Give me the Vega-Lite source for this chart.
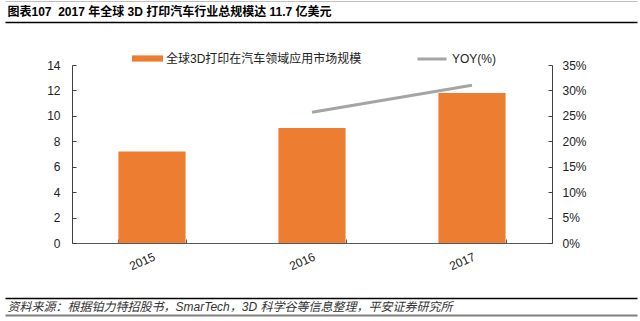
{
  "$schema": "https://vega.github.io/schema/vega-lite/v6.json",
  "autosize": {"type": "none"},
  "width": 632,
  "height": 178,
  "padding": {"left": 5, "top": 65, "right": 3, "bottom": 78},
  "background": "white",
  "datasets": {
    "market": [
      {"year": "2015", "value": 7.2, "yoy": null},
      {"year": "2016", "value": 9.05, "yoy": 25.7},
      {"year": "2017", "value": 11.8, "yoy": 31.0}
    ],
    "frame": [{"p": 0}, {"p": 1}]
  },
  "config": {
    "view": {"stroke": null},
    "font": "Liberation Sans, Noto Sans CJK SC",
    "axis": {"grid": false, "labelFont": "Liberation Sans, Noto Sans CJK SC", "titleFont": "Liberation Sans, Noto Sans CJK SC", "labelColor": "#222", "labelFontSize": 12},
    "legend": {"labelFont": "Liberation Sans, Noto Sans CJK SC", "labelFontSize": 12, "labelColor": "#222", "padding": 0, "labelLimit": 0}
  },
  "layer": [
    {
      "data": {"name": "market"},
      "layer": [
        {
          "mark": {"type": "bar"},
          "encoding": {
            "x": {
              "field": "year", "type": "nominal",
              "scale": {"range": [67, 547], "paddingInner": 0.58, "paddingOuter": 0.29},
              "axis": {"orient": "bottom", "title": null, "labelAngle": -24, "tickBand": "extent", "tickSize": -4, "labelPadding": 12, "domainColor": "#595959", "tickColor": "#595959"}
            },
            "y": {
              "field": "value", "type": "quantitative",
              "scale": {"domain": [0, 14], "nice": false},
              "axis": {"orient": "left", "offset": -67, "title": null, "values": [0, 2, 4, 6, 8, 10, 12, 14], "tickSize": -4, "labelPadding": 16, "domainColor": "#404040", "tickColor": "#404040"}
            },
            "color": {
              "datum": "全球3D打印在汽车领域应用市场规模", "type": "nominal",
              "scale": {"range": ["#ED7D31"]},
              "legend": {"orient": "none", "legendX": 127, "legendY": -22, "title": null, "symbolType": "M-1,-0.2H1V0.2H-1Z", "symbolSize": 961, "symbolStrokeWidth": 0, "labelOffset": 3, "labelLimit": 0}
            }
          }
        },
        {
          "mark": {"type": "line", "strokeWidth": 3},
          "encoding": {
            "x": {"field": "year", "type": "nominal"},
            "y": {
              "field": "yoy", "type": "quantitative",
              "scale": {"domain": [0, 35], "nice": false},
              "axis": {"orient": "right", "offset": -85, "title": null, "values": [0, 5, 10, 15, 20, 25, 30, 35], "labelExpr": "datum.value + '%'", "tickSize": -4, "labelPadding": 14, "domainColor": "#404040", "tickColor": "#404040"}
            },
            "stroke": {
              "datum": "YOY(%)", "type": "nominal",
              "scale": {"range": ["#A5A5A5"]},
              "legend": {"orient": "none", "legendX": 411, "legendY": -22, "title": null, "symbolType": "stroke", "symbolSize": 841, "symbolStrokeWidth": 3, "labelOffset": 4}
            }
          }
        }
      ],
      "resolve": {"scale": {"y": "independent"}}
    },
    {
      "data": {"name": "frame"},
      "mark": {"type": "point", "opacity": 0},
      "encoding": {
        "x": {
          "field": "p", "type": "quantitative", "scale": {"domain": [0, 1], "nice": false},
          "axis": {"orient": "top", "offset": 43, "domainColor": "#000", "domainWidth": 1.5, "ticks": false, "labels": false, "title": "图表107\u00a0\u00a02017 年全球 3D 打印汽车行业总规模达 11.7 亿美元", "titleAnchor": "start", "titleAlign": "left", "titleX": 2, "titleFontSize": 12, "titleFontWeight": "bold", "titleColor": "#000", "titlePadding": 4}
        }
      }
    },
    {
      "data": {"name": "frame"},
      "mark": {"type": "point", "opacity": 0},
      "encoding": {
        "x": {
          "field": "p", "type": "quantitative", "scale": {"domain": [0, 1], "nice": false},
          "axis": {"orient": "top", "offset": 64, "domainColor": "#c0c0c0", "domainWidth": 1, "ticks": false, "labels": false, "title": null}
        }
      }
    },
    {
      "data": {"name": "frame"},
      "mark": {"type": "point", "opacity": 0},
      "encoding": {
        "x": {
          "field": "p", "type": "quantitative", "scale": {"domain": [0, 1], "nice": false},
          "axis": {"orient": "bottom", "offset": 55, "domainColor": "#000", "domainWidth": 1.5, "ticks": false, "labels": false, "title": "资料来源：根据铂力特招股书，SmarTech，3D 科学谷等信息整理，平安证券研究所", "titleAnchor": "start", "titleAlign": "left", "titleX": 2, "titleFontSize": 12, "titleFontWeight": "normal", "titleFontStyle": "italic", "titleColor": "#333", "titlePadding": 3}
        }
      }
    },
    {
      "data": {"name": "frame"},
      "mark": {"type": "point", "opacity": 0},
      "encoding": {
        "x": {
          "field": "p", "type": "quantitative", "scale": {"domain": [0, 1], "nice": false},
          "axis": {"orient": "bottom", "offset": 72, "domainColor": "#808080", "domainWidth": 2, "ticks": false, "labels": false, "title": null}
        }
      }
    }
  ],
  "resolve": {"scale": {"x": "independent", "y": "independent"}, "axis": {"x": "independent", "y": "independent"}}
}
